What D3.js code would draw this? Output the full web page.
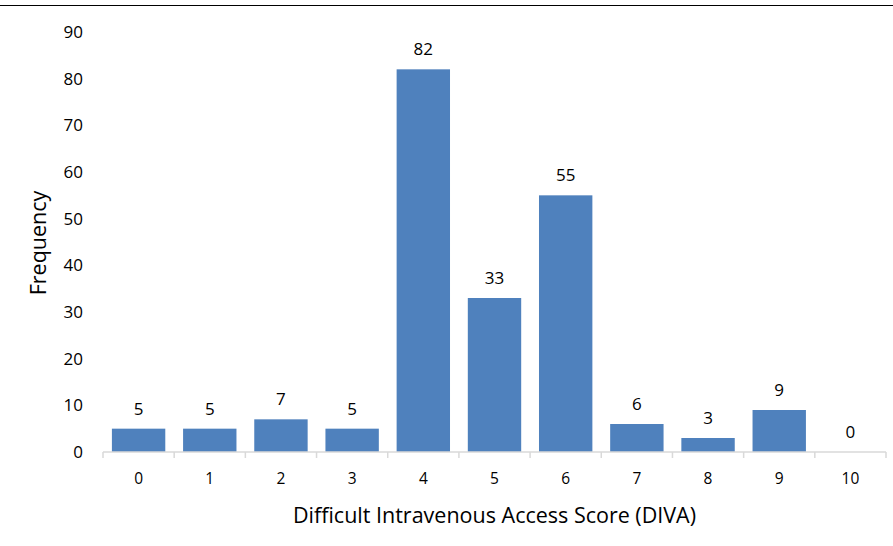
<!DOCTYPE html>
<html>
<head>
<meta charset="utf-8">
<script src="https://cdn.jsdelivr.net/npm/d3@7"></script>
<style>
  body { margin: 0; background: #fff; }
  text { font-family: "Open Sans", "Noto Sans", sans-serif; fill: #000; }
</style>
</head>
<body>
<script>
const scores = ["0", "1", "2", "3", "4", "5", "6", "7", "8", "9", "10"];
const frequency = [5, 5, 7, 5, 82, 33, 55, 6, 3, 9, 0];
const yTicks = [0, 10, 20, 30, 40, 50, 60, 70, 80, 90];

const W = 893, H = 546;
const margin = { top: 32, right: 7, bottom: 94, left: 103 },
    width = W - margin.left - margin.right,
    height = H - margin.top - margin.bottom;

const x = d3.scaleBand().domain(scores).range([0, width]).paddingInner(0.25).paddingOuter(0.125);
const y = d3.scaleLinear().domain([0, 90]).range([height, 0]);

const root = d3.select("body").append("svg")
    .attr("width", W)
    .attr("height", H);

// top rule
root.append("line")
    .attr("x1", 0).attr("x2", W)
    .attr("y1", 5.5).attr("y2", 5.5)
    .attr("stroke", "#000").attr("stroke-width", 1.2);

const svg = root.append("g")
    .attr("transform", "translate(" + margin.left + "," + margin.top + ")");

// bars
svg.selectAll("rect.bar")
    .data(frequency)
    .enter().append("rect")
    .attr("class", "bar")
    .attr("x", (d, i) => x(scores[i]))
    .attr("y", d => y(d))
    .attr("width", x.bandwidth())
    .attr("height", d => height - y(d))
    .attr("fill", "#4f81bd");

// value labels
svg.selectAll("text.val")
    .data(frequency)
    .enter().append("text")
    .attr("class", "val")
    .attr("x", (d, i) => x(scores[i]) + x.bandwidth() / 2)
    .attr("y", d => y(d) - 14)
    .attr("text-anchor", "middle")
    .style("font-size", "17px")
    .text(d => d);

// x axis: category boundaries as ticks
const xAxis = svg.append("g").attr("transform", "translate(0," + height + ")");
xAxis.append("line")
    .attr("x1", 0).attr("x2", width)
    .attr("stroke", "#d9d9d9").attr("stroke-width", 1.5);
const step = x.step();
xAxis.selectAll("line.tick")
    .data(d3.range(scores.length + 1))
    .enter().append("line")
    .attr("class", "tick")
    .attr("x1", i => i * step).attr("x2", i => i * step)
    .attr("y1", 0).attr("y2", 6)
    .attr("stroke", "#d9d9d9").attr("stroke-width", 1.5);
xAxis.selectAll("text")
    .data(scores)
    .enter().append("text")
    .attr("x", d => x(d) + x.bandwidth() / 2)
    .attr("y", 32)
    .attr("text-anchor", "middle")
    .style("font-size", "15.5px")
    .text(d => d);

// y axis labels
const yAxis = d3.axisLeft(y).tickValues(yTicks).tickSize(0).tickPadding(20);
svg.append("g")
    .call(yAxis)
    .call(g => g.select(".domain").remove())
    .selectAll("text")
    .style("font-size", "17px")
    .style("font-family", "'Open Sans', 'Noto Sans', sans-serif")
    .attr("fill", "#000");

// axis titles
root.append("text")
    .attr("x", margin.left + width / 2)
    .attr("y", 523)
    .attr("text-anchor", "middle")
    .style("font-size", "21.5px")
    .text("Difficult Intravenous Access Score (DIVA)");

root.append("text")
    .attr("transform", "translate(46," + (margin.top + height / 2 + 1) + ") rotate(-90)")
    .attr("text-anchor", "middle")
    .style("font-size", "21.5px")
    .text("Frequency");
</script>
</body>
</html>
